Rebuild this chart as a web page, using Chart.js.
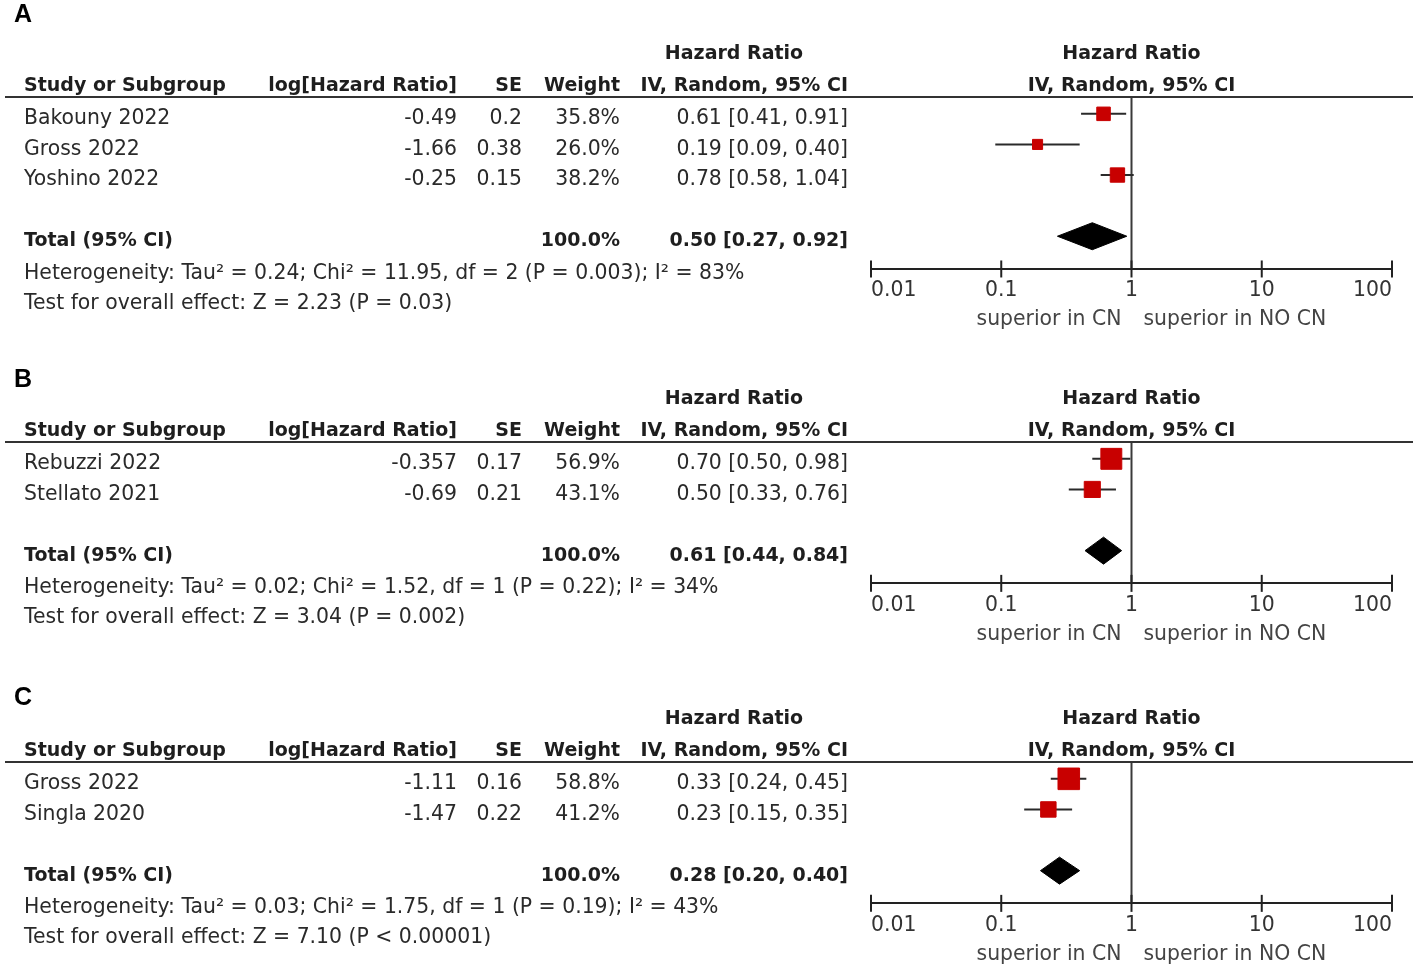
<!DOCTYPE html>
<html>
<head>
<meta charset="utf-8">
<script src="https://cdn.jsdelivr.net/npm/chart.js@4.4.1/dist/chart.umd.min.js"></script>
<style>
  html, body { margin: 0; padding: 0; background: #fff; }
  #wrap { position: relative; width: 1417px; height: 973px; overflow: hidden; }
  canvas { position: absolute; left: 0; }
</style>
</head>
<body>
<div id="wrap">
  <canvas id="panelA" width="1417" height="345" style="top:0px"></canvas>
  <canvas id="panelB" width="1417" height="320" style="top:345px"></canvas>
  <canvas id="panelC" width="1417" height="308" style="top:665px"></canvas>
</div>
<script>
// x axis (hazard ratio, log scale)
const TICK_VALUES = [0.01, 0.1, 1, 10, 100];
const TICK_LABELS = ['0.01', '0.1', '1', '10', '100'];
const AXIS_LEFT_LABEL = 'superior in CN';
const AXIS_RIGHT_LABEL = 'superior in NO CN';
const HEADERS = ['Study or Subgroup', 'log[Hazard Ratio]', 'SE', 'Weight', 'IV, Random, 95% CI'];
const HEADER_TOP = 'Hazard Ratio';
const TOTAL_LABEL = 'Total (95% CI)';

// Panel A
const A_STUDIES = ['Bakouny 2022', 'Gross 2022', 'Yoshino 2022'];
const A_LOGHR = [-0.49, -1.66, -0.25];
const A_SE = [0.2, 0.38, 0.15];
const A_WEIGHT = [35.8, 26.0, 38.2];
const A_HR = [0.61, 0.19, 0.78];
const A_LOW = [0.41, 0.09, 0.58];
const A_HIGH = [0.91, 0.40, 1.04];
const A_TOTAL = [0.50, 0.27, 0.92];
const A_HET = 'Heterogeneity: Tau² = 0.24; Chi² = 11.95, df = 2 (P = 0.003); I² = 83%';
const A_OVERALL = 'Test for overall effect: Z = 2.23 (P = 0.03)';

// Panel B
const B_STUDIES = ['Rebuzzi 2022', 'Stellato 2021'];
const B_LOGHR = [-0.357, -0.69];
const B_SE = [0.17, 0.21];
const B_WEIGHT = [56.9, 43.1];
const B_HR = [0.70, 0.50];
const B_LOW = [0.50, 0.33];
const B_HIGH = [0.98, 0.76];
const B_TOTAL = [0.61, 0.44, 0.84];
const B_HET = 'Heterogeneity: Tau² = 0.02; Chi² = 1.52, df = 1 (P = 0.22); I² = 34%';
const B_OVERALL = 'Test for overall effect: Z = 3.04 (P = 0.002)';

// Panel C
const C_STUDIES = ['Gross 2022', 'Singla 2020'];
const C_LOGHR = [-1.11, -1.47];
const C_SE = [0.16, 0.22];
const C_WEIGHT = [58.8, 41.2];
const C_HR = [0.33, 0.23];
const C_LOW = [0.24, 0.15];
const C_HIGH = [0.45, 0.35];
const C_TOTAL = [0.28, 0.20, 0.40];
const C_HET = 'Heterogeneity: Tau² = 0.03; Chi² = 1.75, df = 1 (P = 0.19); I² = 43%';
const C_OVERALL = 'Test for overall effect: Z = 7.10 (P < 0.00001)';

// layout
const LINE_Y = 97;            // header rule, px below panel top
const ROW_PX = 30.6;          // row pitch
const Y_TOP = -0.55;          // space above first study (rows)
const Y_BELOW_TOTAL = 1.07;   // space from total row down to the axis (rows)
const AXIS_H = 60;
const TEXT_DY = 5;
const DIAMOND_HALF_PX = 13.5;
const COL_STUDY = 24, COL_LOGHR = 457, COL_SE = 522, COL_WEIGHT = 620, COL_CI = 848, COL_CI_MID = 734;
const REG_FONT = '20.4px "DejaVu Sans"';
const BOLD_FONT = 'bold 19px "DejaVu Sans"';
const LABEL_FONT = 'bold 25px "Liberation Sans"';

const PANELS = [
  { id: 'panelA', label: 'A', labelY: 15, height: 345, studies: A_STUDIES, logHr: A_LOGHR, se: A_SE, weight: A_WEIGHT,
    hr: A_HR, low: A_LOW, high: A_HIGH, total: A_TOTAL, het: A_HET, overall: A_OVERALL },
  { id: 'panelB', label: 'B', labelY: 35, height: 320, studies: B_STUDIES, logHr: B_LOGHR, se: B_SE, weight: B_WEIGHT,
    hr: B_HR, low: B_LOW, high: B_HIGH, total: B_TOTAL, het: B_HET, overall: B_OVERALL },
  { id: 'panelC', label: 'C', labelY: 33, height: 308, studies: C_STUDIES, logHr: C_LOGHR, se: C_SE, weight: C_WEIGHT,
    hr: C_HR, low: C_LOW, high: C_HIGH, total: C_TOTAL, het: C_HET, overall: C_OVERALL }
];

function ciText(est, lo, hi) {
  return est.toFixed(2) + ' [' + lo.toFixed(2) + ', ' + hi.toFixed(2) + ']';
}

// Draws the table columns, headers, tick labels and axis captions around the plot
function tablePlugin(p) {
  return {
    id: 'forestTable',
    afterDraw(chart) {
      const ctx = chart.ctx;
      const ys = chart.scales.y;
      const xs = chart.scales.x;
      const top = chart.chartArea.top;
      const bottom = chart.chartArea.bottom;
      const x1 = xs.getPixelForValue(1);
      const totalRow = p.studies.length + 1;

      const put = (txt, x, y, align) => {
        ctx.textAlign = align;
        ctx.fillText(txt, x, y);
      };

      ctx.save();
      ctx.fillStyle = '#000';
      ctx.font = LABEL_FONT;
      ctx.textBaseline = 'middle';
      put(p.label, 14, p.labelY, 'left');

      // header rule
      ctx.strokeStyle = '#333';
      ctx.lineWidth = 2;
      ctx.beginPath();
      ctx.moveTo(5, top);
      ctx.lineTo(1413, top);
      ctx.stroke();

      // headers
      ctx.font = BOLD_FONT;
      ctx.fillStyle = '#1e1e1e';
      ctx.textBaseline = 'alphabetic';
      put(HEADER_TOP, COL_CI_MID, top - 38, 'center');
      put(HEADER_TOP, x1, top - 38, 'center');
      put(HEADERS[0], COL_STUDY, top - 6, 'left');
      put(HEADERS[1], COL_LOGHR, top - 6, 'right');
      put(HEADERS[2], COL_SE, top - 6, 'right');
      put(HEADERS[3], COL_WEIGHT, top - 6, 'right');
      put(HEADERS[4], COL_CI, top - 6, 'right');
      put(HEADERS[4], x1, top - 6, 'center');

      // study rows
      ctx.font = REG_FONT;
      ctx.fillStyle = '#2a2a2a';
      ctx.textBaseline = 'middle';
      p.studies.forEach((name, i) => {
        const y = ys.getPixelForValue(i) + TEXT_DY;
        put(name, COL_STUDY, y, 'left');
        put(String(p.logHr[i]), COL_LOGHR, y, 'right');
        put(String(p.se[i]), COL_SE, y, 'right');
        put(p.weight[i].toFixed(1) + '%', COL_WEIGHT, y, 'right');
        put(ciText(p.hr[i], p.low[i], p.high[i]), COL_CI, y, 'right');
      });

      // total row
      const yt = ys.getPixelForValue(totalRow) + TEXT_DY;
      ctx.font = BOLD_FONT;
      ctx.fillStyle = '#1e1e1e';
      const wsum = p.weight.reduce((a, b) => a + b, 0);
      put(TOTAL_LABEL, COL_STUDY, yt, 'left');
      put(wsum.toFixed(1) + '%', COL_WEIGHT, yt, 'right');
      put(ciText(p.total[0], p.total[1], p.total[2]), COL_CI, yt, 'right');

      ctx.font = REG_FONT;
      ctx.fillStyle = '#2a2a2a';
      put(p.het, COL_STUDY, yt + 32, 'left');
      put(p.overall, COL_STUDY, yt + 62, 'left');

      // tick labels: outer ones sit inside the axis ends
      ctx.fillStyle = '#333';
      TICK_VALUES.forEach((v, i) => {
        const align = i === 0 ? 'left' : (i === TICK_VALUES.length - 1 ? 'right' : 'center');
        put(TICK_LABELS[i], xs.getPixelForValue(v), bottom + 22, align);
      });

      // axis captions
      ctx.fillStyle = '#444';
      put(AXIS_LEFT_LABEL, x1 - 10, bottom + 51, 'right');
      put(AXIS_RIGHT_LABEL, x1 + 12, bottom + 51, 'left');
      ctx.restore();
    }
  };
}

function buildPanel(p) {
  const totalRow = p.studies.length + 1;
  const yMax = totalRow + Y_BELOW_TOTAL;
  const areaH = (yMax - Y_TOP) * ROW_PX;
  const padBottom = p.height - LINE_Y - areaH - AXIS_H;
  const dh = DIAMOND_HALF_PX / ROW_PX;

  const squares = {
    data: p.hr.map((v, i) => ({ x: v, y: i })),
    pointStyle: 'rect',
    pointRadius: p.weight.map(w => (1 + 0.35 * w) / Math.SQRT2),
    backgroundColor: '#c80000',
    borderColor: '#c80000',
    borderWidth: 1,
    showLine: false
  };

  const ciLines = p.hr.map((v, i) => ({
    data: [{ x: p.low[i], y: i }, { x: p.high[i], y: i }],
    showLine: true,
    borderColor: '#2a2a2a',
    borderWidth: 2,
    pointRadius: 0
  }));

  const diamond = {
    data: [
      { x: p.total[1], y: totalRow },
      { x: p.total[0], y: totalRow - dh },
      { x: p.total[2], y: totalRow },
      { x: p.total[0], y: totalRow + dh },
      { x: p.total[1], y: totalRow }
    ],
    showLine: true,
    fill: 'shape',
    backgroundColor: '#000',
    borderColor: '#000',
    borderWidth: 1,
    pointRadius: 0,
    tension: 0
  };

  const tickMarks = {
    data: TICK_VALUES.map(v => ({ x: v, y: yMax })),
    pointStyle: 'line',
    rotation: 90,
    pointRadius: 8.5,
    borderColor: '#222',
    borderWidth: 2,
    showLine: false,
    clip: false
  };

  const refLine = {
    data: [{ x: 1, y: Y_TOP }, { x: 1, y: yMax }],
    showLine: true,
    borderColor: '#3a3a3a',
    borderWidth: 2,
    pointRadius: 0
  };

  return new Chart(document.getElementById(p.id), {
    type: 'scatter',
    data: { datasets: [squares, ...ciLines, diamond, tickMarks, refLine] },
    options: {
      responsive: false,
      animation: false,
      events: [],
      layout: { padding: { top: LINE_Y, left: 871, right: 25, bottom: padBottom } },
      plugins: { legend: { display: false }, tooltip: { enabled: false } },
      scales: {
        x: {
          type: 'logarithmic',
          min: 0.01,
          max: 100,
          afterBuildTicks: scale => { scale.ticks = TICK_VALUES.map(v => ({ value: v })); },
          afterFit: scale => { scale.height = AXIS_H; },
          ticks: { display: false },
          grid: { display: true, drawOnChartArea: false, drawTicks: false },
          border: { display: true, color: '#222', width: 2 }
        },
        y: {
          type: 'linear',
          display: false,
          reverse: true,
          min: Y_TOP,
          max: yMax
        }
      }
    },
    plugins: [tablePlugin(p)]
  });
}

PANELS.forEach(buildPanel);
</script>
</body>
</html>
